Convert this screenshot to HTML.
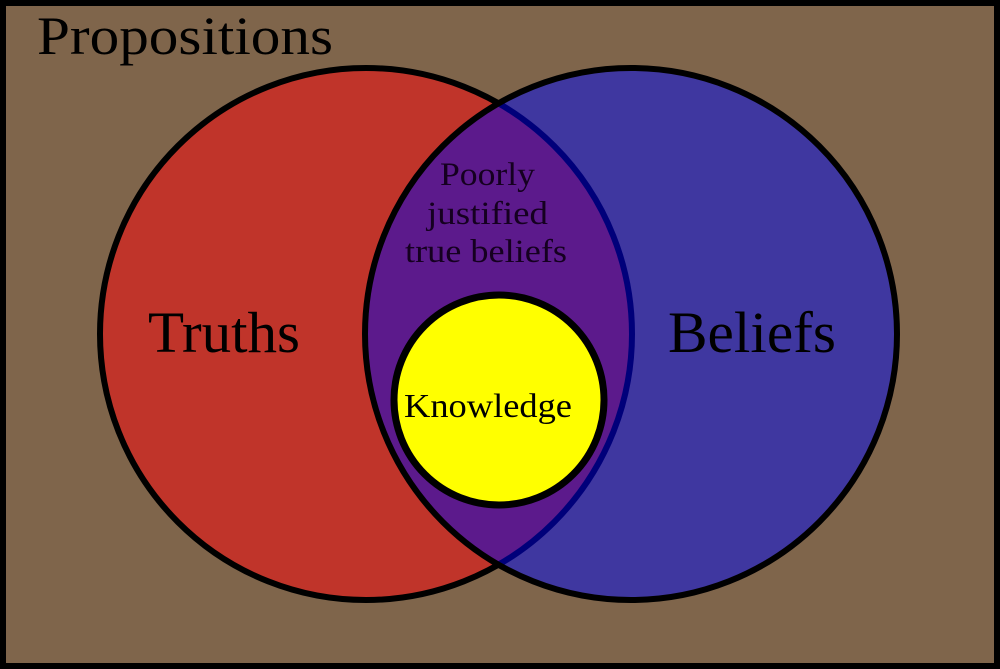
<!DOCTYPE html>
<html><head><style>html,body{margin:0;padding:0;background:#000}svg{display:block}</style></head>
<body>
<svg width="1000" height="669" viewBox="0 0 1000 669" xmlns="http://www.w3.org/2000/svg">
<defs>
<clipPath id="cb"><circle cx="631" cy="334" r="266"/></clipPath>
</defs>
<rect x="3" y="3" width="994" height="663" fill="#7f654b" stroke="#000" stroke-width="6"/>
<circle cx="366" cy="334" r="266" fill="#c0342a" stroke="#000" stroke-width="6"/>
<circle cx="631" cy="334" r="266" fill="#3f37a0"/>
<g clip-path="url(#cb)">
<circle cx="366" cy="334" r="266" fill="#5c1a8c" stroke="#00007a" stroke-width="6"/>
</g>
<circle cx="631" cy="334" r="266" fill="none" stroke="#000" stroke-width="6"/>
<circle cx="499" cy="400" r="105" fill="#ffff00" stroke="#000" stroke-width="7"/>
<g font-family="Liberation Serif, serif" fill="#000">
<text x="37" y="54" font-size="54" textLength="296" lengthAdjust="spacingAndGlyphs">Propositions</text>
<text x="148" y="352" font-size="58" textLength="152" lengthAdjust="spacingAndGlyphs">Truths</text>
<text x="668" y="352" font-size="58" textLength="168" lengthAdjust="spacingAndGlyphs">Beliefs</text>
<g font-size="33" fill="#150020">
<text x="440" y="185" textLength="95" lengthAdjust="spacingAndGlyphs">Poorly</text>
<text x="427" y="224" textLength="121" lengthAdjust="spacingAndGlyphs">justified</text>
<text x="405" y="262" textLength="162" lengthAdjust="spacingAndGlyphs">true beliefs</text>
</g>
<text x="404" y="417" font-size="34" textLength="168" lengthAdjust="spacingAndGlyphs">Knowledge</text>
</g>
</svg>
</body></html>
